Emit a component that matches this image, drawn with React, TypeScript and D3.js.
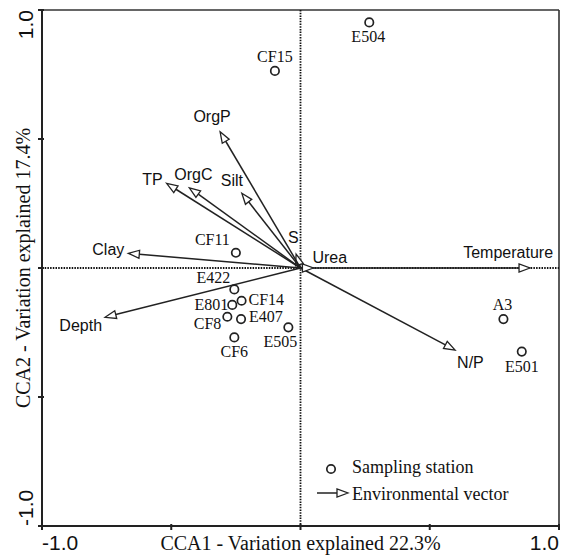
import React, { useEffect, useRef } from 'react';
import { select, scaleLinear } from 'd3';

// sampling stations (site scores)
const siteNames = ['E504', 'CF15', 'CF11', 'E422', 'CF14', 'E801', 'CF8', 'E407', 'E505', 'CF6', 'A3', 'E501'];
const siteCCA1 = [0.266, -0.099, -0.25, -0.256, -0.228, -0.264, -0.283, -0.23, -0.047, -0.256, 0.785, 0.856];
const siteCCA2 = [0.952, 0.764, 0.059, -0.083, -0.127, -0.143, -0.189, -0.198, -0.23, -0.269, -0.198, -0.324];

// environmental vectors (biplot scores)
const envNames = ['Temperature', 'N/P', 'Urea', 'S', 'OrgP', 'Silt', 'OrgC', 'TP', 'Clay', 'Depth'];
const envCCA1 = [0.888, 0.598, 0.05, -0.017, -0.311, -0.227, -0.43, -0.518, -0.666, -0.756];
const envCCA2 = [0.0, -0.318, 0.0, 0.054, 0.528, 0.29, 0.311, 0.328, 0.057, -0.191];

const tickValues = [-1, -0.5, 0, 0.5, 1];
const tickLabels = ['-1.0', '', '', '', '1.0'];

const xTitle = 'CCA1 - Variation explained 22.3%';
const yTitle = 'CCA2 - Variation explained 17.4%';
const legendItems = ['Sampling station', 'Environmental vector'];

// label placement: [dx, dy, anchor]
const siteLabelPos = {
  E504: [-1, 20, 'middle'], CF15: [0, -9, 'middle'], CF11: [-6, -8, 'end'],
  E422: [-4, -6, 'end'], CF14: [7, 4, 'start'], E801: [-4, 5, 'end'],
  CF8: [-6, 12, 'end'], E407: [8, 3, 'start'], E505: [-8, 20, 'middle'],
  CF6: [0, 20, 'middle'], A3: [-1, -9, 'middle'], E501: [0, 20, 'middle'],
};
const envLabelPos = {
  Temperature: [23, -10, 'end'], 'N/P': [2, 18, 'start'], Urea: [-1, -5, 'start'],
  S: [-8, -11, 'start'], OrgP: [-8, -10, 'middle'], Silt: [-10, -7, 'middle'],
  OrgC: [4, -8, 'middle'], TP: [-4, 2, 'end'], Clay: [-4, 2, 'end'], Depth: [-3, 14, 'end'],
};

const SANS = '"Liberation Sans", Arial, sans-serif';
const SERIF = '"Liberation Serif", "Times New Roman", serif';
const INK = '#222';

function arrowHead(x1, y1, x2, y2, len = 11, half = 4) {
  const dx = x2 - x1, dy = y2 - y1;
  const d = Math.sqrt(dx * dx + dy * dy) || 1;
  const ux = dx / d, uy = dy / d;
  const bx = x2 - ux * len, by = y2 - uy * len;
  const px = -uy * half, py = ux * half;
  return { bx, by, pts: `${x2},${y2} ${bx + px},${by + py} ${bx - px},${by - py}` };
}

function Biplot() {
  const svgRef = useRef(null);
  useEffect(() => {
    const svg = select(svgRef.current);
    svg.selectAll('*').remove();
    const x = scaleLinear().domain([-1, 1]).range([42, 559]);
    const y = scaleLinear().domain([-1, 1]).range([526, 10]);

    // frame
    svg.append('line').attr('x1', x(-1)).attr('x2', x(1)).attr('y1', y(1)).attr('y2', y(1))
      .attr('stroke', '#333').attr('stroke-width', 1.6);
    svg.append('line').attr('x1', x(1)).attr('x2', x(1)).attr('y1', y(1)).attr('y2', y(-1))
      .attr('stroke', '#333').attr('stroke-width', 1.6);

    // dotted zero lines
    svg.append('line').attr('x1', x(-1)).attr('x2', x(1)).attr('y1', y(0)).attr('y2', y(0))
      .attr('stroke', '#111').attr('stroke-width', 1.8).attr('stroke-dasharray', '1.5,1.2');
    svg.append('line').attr('x1', x(0)).attr('x2', x(0)).attr('y1', y(1)).attr('y2', y(-1))
      .attr('stroke', '#111').attr('stroke-width', 1.8).attr('stroke-dasharray', '1.5,1.2');

    // axes
    svg.append('line').attr('x1', x(-1)).attr('x2', x(-1)).attr('y1', y(1)).attr('y2', y(-1) + 1)
      .attr('stroke', INK).attr('stroke-width', 2);
    svg.append('line').attr('x1', x(-1) - 1).attr('x2', x(1) + 1).attr('y1', y(-1)).attr('y2', y(-1))
      .attr('stroke', INK).attr('stroke-width', 2);
    svg.selectAll('.ytick').data(tickValues).join('line').attr('class', 'ytick')
      .attr('x1', x(-1) - 4).attr('x2', x(-1) + 2).attr('y1', (d) => y(d)).attr('y2', (d) => y(d))
      .attr('stroke', INK).attr('stroke-width', 2);
    svg.selectAll('.xtick').data(tickValues).join('line').attr('class', 'xtick')
      .attr('y1', y(-1) - 2).attr('y2', y(-1) + 4).attr('x1', (d) => x(d)).attr('x2', (d) => x(d))
      .attr('stroke', INK).attr('stroke-width', 2);

    // tick labels
    tickValues.forEach((v, i) => {
      if (!tickLabels[i]) return;
      const anchor = v < 0 ? 'start' : 'end';
      svg.append('text').attr('x', x(v)).attr('y', 550).attr('text-anchor', anchor)
        .attr('font-family', SANS).attr('font-size', 21).attr('fill', '#111').text(tickLabels[i]);
      svg.append('text').attr('transform', `translate(33,${y(v)}) rotate(-90)`).attr('text-anchor', anchor)
        .attr('font-family', SANS).attr('font-size', 21).attr('fill', '#111').text(tickLabels[i]);
    });

    // axis titles
    svg.append('text').attr('x', x(0)).attr('y', 550).attr('text-anchor', 'middle')
      .attr('font-family', SERIF).attr('font-size', 20).attr('fill', '#111').text(xTitle);
    svg.append('text').attr('transform', `translate(30,${y(0)}) rotate(-90)`).attr('text-anchor', 'middle')
      .attr('font-family', SERIF).attr('font-size', 20).attr('fill', '#111').text(yTitle);

    // environmental vectors
    const env = envNames.map((n, i) => ({ n, a: envCCA1[i], b: envCCA2[i] }));
    const g = svg.append('g');
    env.forEach((d) => {
      const x0 = x(0), y0 = y(0), x1 = x(d.a), y1 = y(d.b);
      const h = arrowHead(x0, y0, x1, y1);
      g.append('line').attr('x1', x0).attr('y1', y0).attr('x2', h.bx).attr('y2', h.by)
        .attr('stroke', INK).attr('stroke-width', 1.5);
      g.append('polygon').attr('points', h.pts).attr('fill', 'white')
        .attr('stroke', INK).attr('stroke-width', 1.3).attr('stroke-linejoin', 'miter');
      const p = envLabelPos[d.n];
      g.append('text').attr('x', x1 + p[0]).attr('y', y1 + p[1]).attr('text-anchor', p[2])
        .attr('font-family', SANS).attr('font-size', 16).attr('fill', '#111').text(d.n);
    });

    // sampling stations
    const sites = siteNames.map((n, i) => ({ n, a: siteCCA1[i], b: siteCCA2[i] }));
    svg.selectAll('.site').data(sites).join('circle').attr('class', 'site')
      .attr('cx', (d) => x(d.a)).attr('cy', (d) => y(d.b)).attr('r', 4.2)
      .attr('fill', 'white').attr('stroke', INK).attr('stroke-width', 1.7);
    svg.selectAll('.site-label').data(sites).join('text').attr('class', 'site-label')
      .attr('x', (d) => x(d.a) + siteLabelPos[d.n][0])
      .attr('y', (d) => y(d.b) + siteLabelPos[d.n][1])
      .attr('text-anchor', (d) => siteLabelPos[d.n][2])
      .attr('font-family', SERIF).attr('font-size', 16).attr('fill', '#111').text((d) => d.n);

    // legend
    const lg = svg.append('g');
    lg.append('circle').attr('cx', 331).attr('cy', 469).attr('r', 4.2)
      .attr('fill', 'white').attr('stroke', INK).attr('stroke-width', 1.7);
    lg.append('text').attr('x', 352).attr('y', 473).attr('font-family', SERIF).attr('font-size', 18)
      .attr('fill', '#111').text(legendItems[0]);
    const lh = arrowHead(317, 493, 348, 493);
    lg.append('line').attr('x1', 317).attr('y1', 493).attr('x2', lh.bx).attr('y2', lh.by)
      .attr('stroke', INK).attr('stroke-width', 1.5);
    lg.append('polygon').attr('points', lh.pts).attr('fill', 'white').attr('stroke', INK).attr('stroke-width', 1.3);
    lg.append('text').attr('x', 352).attr('y', 500).attr('font-family', SERIF).attr('font-size', 18)
      .attr('fill', '#111').text(legendItems[1]);
  }, []);

  return (
    <svg ref={svgRef} width={561} height={555}
      style={{ position: 'absolute', left: 0, top: 0, background: 'white' }} />
  );
}

export default function App() {
  return <Biplot />;
}
